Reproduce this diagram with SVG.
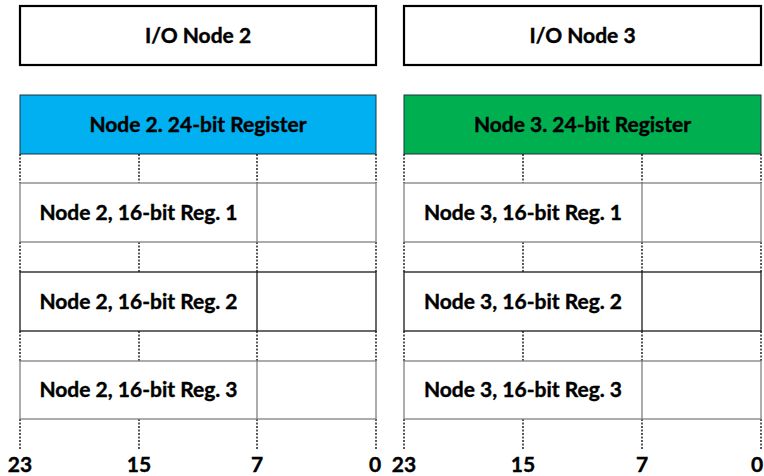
<svg xmlns="http://www.w3.org/2000/svg" width="764" height="476" viewBox="0 0 764 476">
<style>
text{font-family:Lato,"Liberation Sans",sans-serif;font-weight:700;font-size:21px;fill:#000;stroke:#000;stroke-width:0.4;text-anchor:middle}
.io{fill:#fff;stroke:#000;stroke-width:2.2}
.reg24{stroke:#1d3440;stroke-width:1}
.r{fill:#fff;stroke:#808080;stroke-width:1.3}
.rd{fill:#fff;stroke:#1a1a1a;stroke-width:1.3}
.div{stroke:#808080;stroke-width:1.3}
.divd{stroke:#1a1a1a;stroke-width:1.3}
.dot{stroke:#000;stroke-width:1.3;stroke-dasharray:2 1.5;fill:none}
.lbl{font-size:21px}
</style>
<g id="io2"><rect class="io" x="20" y="6" width="356" height="59"/><text x="198" y="43">I/O Node 2</text></g>
<g id="io3"><rect class="io" x="404" y="6" width="357" height="59"/><text x="582.5" y="43">I/O Node 3</text></g>
<g id="reg24_2"><rect class="reg24" x="20" y="95" width="356" height="59" fill="#00B0F0"/><text x="198" y="132">Node 2. 24-bit Register</text></g>
<g id="reg24_3"><rect class="reg24" x="404" y="95" width="357" height="59" fill="#00B050"/><text x="582.5" y="132">Node 3. 24-bit Register</text></g>
<g id="connectors">
<path class="dot" d="M20 154V183M139 154V183M257 154V183M376 154V183M20 242V272M139 242V272M257 242V272M376 242V272M20 331V361M139 331V361M257 331V361M376 331V361M20 419V450M139 419V450M257 419V450M376 419V450"/>
<path class="dot" d="M404 154V183M523 154V183M642 154V183M761 154V183M404 242V272M523 242V272M642 242V272M761 242V272M404 331V361M523 331V361M642 331V361M761 331V361M404 419V450M523 419V450M642 419V450M761 419V450"/>
</g>
<g id="n2r1"><rect class="r" x="20" y="183" width="356" height="59"/><line class="div" x1="257" y1="183" x2="257" y2="242"/><text x="138.5" y="220">Node 2, 16-bit Reg. 1</text></g>
<g id="n2r2"><rect class="rd" x="20" y="272" width="356" height="59"/><line class="divd" x1="257" y1="272" x2="257" y2="331"/><text x="138.5" y="309">Node 2, 16-bit Reg. 2</text></g>
<g id="n2r3"><rect class="r" x="20" y="361" width="356" height="58"/><line class="div" x1="257" y1="361" x2="257" y2="419"/><text x="138.5" y="397">Node 2, 16-bit Reg. 3</text></g>
<g id="n3r1"><rect class="r" x="404" y="183" width="357" height="59"/><line class="div" x1="642" y1="183" x2="642" y2="242"/><text x="523" y="220">Node 3, 16-bit Reg. 1</text></g>
<g id="n3r2"><rect class="rd" x="404" y="272" width="357" height="59"/><line class="divd" x1="642" y1="272" x2="642" y2="331"/><text x="523" y="309">Node 3, 16-bit Reg. 2</text></g>
<g id="n3r3"><rect class="r" x="404" y="361" width="357" height="58"/><line class="div" x1="642" y1="361" x2="642" y2="419"/><text x="523" y="397">Node 3, 16-bit Reg. 3</text></g>
<g id="labels">
<text class="lbl" x="20" y="472">23</text><text class="lbl" x="139" y="472">15</text><text class="lbl" x="257" y="472">7</text><text class="lbl" x="375" y="472">0</text>
<text class="lbl" x="404" y="472">23</text><text class="lbl" x="523" y="472">15</text><text class="lbl" x="642" y="472">7</text><text class="lbl" x="757" y="472">0</text>
</g>
</svg>
